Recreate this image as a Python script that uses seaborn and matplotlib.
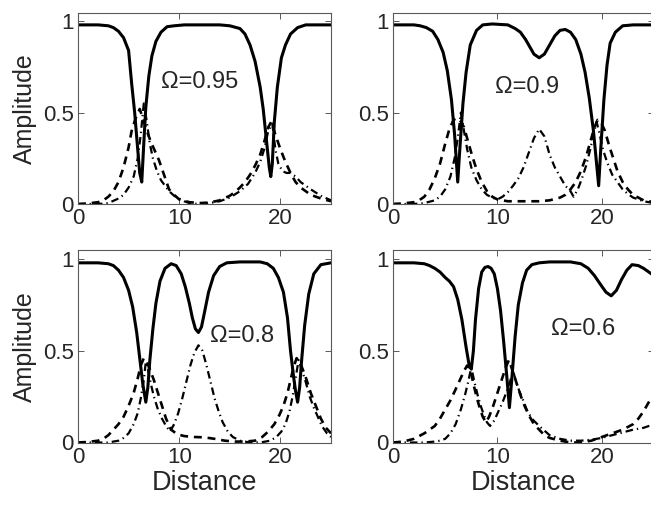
import numpy as np
import pandas as pd
import seaborn as sns
import matplotlib.pyplot as plt

# ---- values ----
omegas = ['0.95', '0.9', '0.8', '0.6']

# panel 1, Omega = 0.95
solid1_x = [0, 2, 3, 3.5, 4, 4.5, 5, 5.3, 5.6, 5.9, 6.1, 6.3, 6.5, 6.7, 7.0, 7.3, 7.7, 8.2, 8.8, 9.5,
            10.5, 14, 15, 16, 16.5, 17, 17.5, 18, 18.3, 18.6, 18.9, 19.05, 19.2, 19.4, 19.7, 20.1, 20.5, 21, 21.7, 22.5, 25]
solid1_y = [0.98, 0.98, 0.975, 0.965, 0.945, 0.91, 0.84, 0.66, 0.5, 0.3, 0.17, 0.12, 0.33, 0.53, 0.7, 0.81, 0.89, 0.94, 0.97, 0.975,
            0.98, 0.98, 0.975, 0.96, 0.93, 0.87, 0.78, 0.64, 0.52, 0.36, 0.2, 0.15, 0.22, 0.45, 0.64, 0.8, 0.87, 0.93, 0.965, 0.98, 0.98]
dash1_x = [0, 1, 2, 2.5, 3, 3.5, 4, 4.5, 5, 5.3, 5.7, 6.1, 6.4, 6.8, 7.2, 7.6, 8, 8.5, 9, 9.5,
           10, 11, 12, 13, 14, 15, 15.5, 16, 16.5, 17, 17.5, 18, 18.4, 18.8, 19.1, 19.5, 20, 20.5, 21, 21.5,
           22, 23, 24, 25]
dash1_y = [0.0, 0.003, 0.01, 0.02, 0.04, 0.07, 0.12, 0.2, 0.31, 0.4, 0.47, 0.52, 0.47, 0.4, 0.34, 0.29, 0.24, 0.16, 0.08, 0.05,
           0.025, 0.01, 0.005, 0.008, 0.02, 0.045, 0.065, 0.09, 0.12, 0.16, 0.21, 0.27, 0.34, 0.42, 0.45, 0.38, 0.3, 0.23, 0.17, 0.12,
           0.09, 0.05, 0.03, 0.015]
dot1_x = [0, 2, 3, 4, 4.5, 5, 5.5, 5.9, 6.2, 6.5, 6.8, 7.1, 7.4, 7.8, 8.2, 8.6, 9, 9.5, 10, 10.5,
          11, 11.5, 12, 13, 14, 15, 16, 16.8, 17.5, 18, 18.4, 18.8, 19.2, 19.5, 19.8, 20.2, 20.6, 21, 21.5, 22,
          22.5, 23, 24, 25]
dot1_y = [0.0, 0.0, 0.005, 0.03, 0.05, 0.09, 0.15, 0.25, 0.38, 0.55, 0.45, 0.33, 0.25, 0.18, 0.13, 0.1, 0.07, 0.045, 0.03, 0.015,
          0.005, 0.002, 0.0, 0.005, 0.015, 0.035, 0.07, 0.11, 0.17, 0.23, 0.3, 0.4, 0.44, 0.3, 0.22, 0.18, 0.17, 0.17, 0.15, 0.12,
          0.1, 0.08, 0.045, 0.02]

# panel 2, Omega = 0.9
solid2_x = [0, 2, 2.6, 3.2, 3.8, 4.3, 4.8, 5.2, 5.6, 5.9, 6.2, 6.4, 6.7, 7.0, 7.4, 8, 8.6, 9.5, 11, 11.7,
            12.2, 12.7, 13.1, 13.5, 14, 14.5, 15, 15.5, 16, 16.5, 17, 17.5, 18, 18.4, 18.8, 19.2, 19.5, 19.7, 19.9, 20.2,
            20.5, 20.8, 21.3, 22, 23, 25]
solid2_y = [0.98, 0.98, 0.975, 0.965, 0.945, 0.9, 0.83, 0.73, 0.57, 0.38, 0.12, 0.3, 0.55, 0.72, 0.87, 0.95, 0.98, 0.985, 0.98, 0.96,
            0.94, 0.9, 0.86, 0.82, 0.8, 0.82, 0.87, 0.92, 0.95, 0.955, 0.94, 0.9, 0.82, 0.72, 0.58, 0.4, 0.22, 0.1, 0.3, 0.57,
            0.76, 0.88, 0.94, 0.975, 0.98, 0.98]
dash2_x = [0, 1, 2, 2.5, 3, 3.5, 4, 4.5, 5, 5.4, 5.8, 6.1, 6.4, 6.8, 7.2, 7.6, 8, 8.5, 9, 9.5,
           10, 11, 12, 13, 14, 15, 16, 16.5, 17, 17.5, 18, 18.5, 18.9, 19.3, 19.6, 19.9, 20.3, 20.7, 21.1, 21.5,
           22, 22.5, 23, 24, 25]
dash2_y = [0.0, 0.003, 0.01, 0.02, 0.04, 0.08, 0.14, 0.22, 0.33, 0.41, 0.46, 0.47, 0.46, 0.42, 0.34, 0.26, 0.19, 0.12, 0.07, 0.04,
           0.025, 0.015, 0.015, 0.015, 0.015, 0.02, 0.035, 0.05, 0.08, 0.12, 0.18, 0.26, 0.34, 0.42, 0.46, 0.45, 0.4, 0.32, 0.25, 0.18,
           0.12, 0.08, 0.05, 0.02, 0.01]
dot2_x = [0, 2, 3, 4, 4.5, 5, 5.5, 5.9, 6.2, 6.5, 6.8, 7.1, 7.5, 8, 8.5, 9, 9.5, 10, 10.5, 11,
          11.5, 12, 12.5, 13, 13.5, 14, 14.5, 15, 15.5, 16, 16.5, 17, 17.3, 17.7, 18.1, 18.5, 18.9, 19.2, 19.5, 19.8,
          20.1, 20.5, 21, 21.5, 22, 22.5, 23, 24, 25]
dot2_y = [0.0, 0.0, 0.005, 0.02, 0.04, 0.08, 0.15, 0.25, 0.36, 0.5, 0.4, 0.3, 0.2, 0.13, 0.08, 0.05, 0.035, 0.025, 0.04, 0.065,
          0.1, 0.14, 0.2, 0.28, 0.36, 0.41, 0.37, 0.27, 0.2, 0.15, 0.1, 0.07, 0.04, 0.08, 0.14, 0.21, 0.3, 0.38, 0.45, 0.38,
          0.3, 0.23, 0.16, 0.12, 0.08, 0.055, 0.035, 0.015, 0.005]

# panel 3, Omega = 0.8
solid3_x = [0, 2, 3, 3.5, 4, 4.5, 5, 5.4, 5.8, 6.1, 6.4, 6.7, 6.9, 7.1, 7.4, 7.7, 8.1, 8.6, 9.2, 9.7,
            10.2, 10.6, 11, 11.3, 11.6, 11.9, 12.2, 12.5, 12.9, 13.4, 14, 14.7, 16, 18, 18.7, 19.3, 19.8, 20.3, 20.7, 21,
            21.3, 21.5, 21.7, 21.9, 22.1, 22.4, 22.8, 23.3, 24, 25]
solid3_y = [0.98, 0.98, 0.975, 0.965, 0.94, 0.9, 0.83, 0.74, 0.6, 0.46, 0.32, 0.22, 0.3, 0.45, 0.62, 0.76, 0.88, 0.95, 0.975, 0.965,
            0.92, 0.85, 0.76, 0.68, 0.62, 0.6, 0.63, 0.71, 0.82, 0.91, 0.96, 0.98, 0.985, 0.985, 0.975, 0.95, 0.9, 0.82, 0.68, 0.5,
            0.36, 0.28, 0.22, 0.3, 0.45, 0.64, 0.81, 0.92, 0.97, 0.98]
dash3_x = [0, 1, 2, 2.5, 3, 3.5, 4, 4.5, 5, 5.5, 5.9, 6.2, 6.5, 6.8, 7.1, 7.5, 7.9, 8.3, 8.7, 9.2,
           9.8, 10.5, 11.5, 12.5, 13.5, 14.5, 15.5, 16.5, 17.5, 18.2, 18.8, 19.4, 19.9, 20.3, 20.7, 21, 21.3, 21.6, 21.9, 22.2,
           22.6, 23, 23.5, 24, 24.5, 25]
dash3_y = [0.0, 0.003, 0.01, 0.02, 0.04, 0.07, 0.1, 0.14, 0.2, 0.27, 0.35, 0.42, 0.46, 0.44, 0.4, 0.34, 0.27, 0.2, 0.13, 0.07,
           0.045, 0.035, 0.03, 0.028, 0.02, 0.01, 0.005, 0.005, 0.01, 0.03, 0.06, 0.1, 0.15, 0.2, 0.27, 0.34, 0.41, 0.46, 0.44, 0.4,
           0.34, 0.27, 0.2, 0.13, 0.08, 0.05]
dot3_x = [0, 3, 4, 4.5, 5, 5.5, 5.9, 6.2, 6.5, 6.7, 6.9, 7.2, 7.5, 7.9, 8.3, 8.7, 9.1, 9.5, 9.9, 10.3,
          10.7, 11.1, 11.5, 11.9, 12.3, 12.7, 13.1, 13.5, 13.9, 14.3, 14.8, 15.3, 16, 17, 18, 19, 19.6, 20.1, 20.5, 20.9,
          21.2, 21.5, 21.8, 22.1, 22.5, 22.9, 23.3, 23.7, 24.1, 24.6, 25]
dot3_y = [0.0, 0.0, 0.01, 0.025, 0.05, 0.1, 0.16, 0.24, 0.34, 0.44, 0.4, 0.32, 0.25, 0.18, 0.13, 0.09, 0.06, 0.1, 0.16, 0.24,
          0.33, 0.42, 0.49, 0.53, 0.5, 0.42, 0.33, 0.24, 0.17, 0.11, 0.06, 0.03, 0.01, 0.0, 0.0, 0.01, 0.03, 0.06, 0.1, 0.17,
          0.25, 0.35, 0.45, 0.4, 0.33, 0.25, 0.19, 0.14, 0.09, 0.05, 0.03]

# panel 4, Omega = 0.6
solid4_x = [0, 2, 3, 3.5, 4, 4.5, 5, 5.4, 5.8, 6.2, 6.6, 7.0, 7.3, 7.5, 7.7, 7.9, 8.2, 8.5, 8.8, 9.1,
            9.4, 9.7, 10.0, 10.3, 10.6, 10.9, 11.15, 11.4, 11.7, 12.0, 12.4, 12.8, 13.3, 14, 15, 17, 18, 18.7, 19.3, 19.9,
            20.4, 20.9, 21.4, 21.9, 22.4, 22.9, 23.5, 24, 24.5, 25]
solid4_y = [0.98, 0.98, 0.975, 0.965, 0.95, 0.93, 0.9, 0.88, 0.85, 0.78, 0.67, 0.52, 0.42, 0.4, 0.5, 0.67, 0.84, 0.93, 0.955, 0.96,
            0.95, 0.92, 0.84, 0.72, 0.55, 0.36, 0.19, 0.36, 0.58, 0.75, 0.87, 0.94, 0.97, 0.98, 0.985, 0.985, 0.975, 0.95, 0.91, 0.86,
            0.82, 0.8, 0.83, 0.89, 0.94, 0.97, 0.965, 0.95, 0.93, 0.91]
dash4_x = [0, 1, 2, 2.5, 3, 3.5, 4, 4.5, 5, 5.5, 6, 6.4, 6.8, 7.1, 7.4, 7.7, 8, 8.3, 8.6, 8.9,
           9.2, 9.6, 10, 10.4, 10.8, 11.1, 11.4, 11.8, 12.2, 12.6, 13, 13.5, 14, 14.5, 15, 16, 17, 18, 19, 20,
           21, 22, 23, 23.5, 24, 24.5, 25]
dash4_y = [0.0, 0.005, 0.02, 0.035, 0.05, 0.07, 0.09, 0.13, 0.18, 0.23, 0.29, 0.34, 0.39, 0.42, 0.4, 0.32, 0.25, 0.19, 0.14, 0.11,
           0.14, 0.2, 0.27, 0.34, 0.41, 0.45, 0.4, 0.33, 0.26, 0.2, 0.15, 0.1, 0.07, 0.04, 0.025, 0.01, 0.0, 0.0, 0.01, 0.03,
           0.05, 0.07, 0.1, 0.13, 0.17, 0.22, 0.27]
dot4_x = [0, 3, 4, 4.5, 5, 5.5, 6, 6.5, 6.9, 7.2, 7.5, 7.8, 8.1, 8.4, 8.7, 9.0, 9.3, 9.7, 10.1, 10.5,
          10.9, 11.2, 11.5, 11.8, 12.1, 12.4, 12.8, 13.3, 14, 15, 16, 17, 18, 19, 20, 21, 22, 23, 24, 25]
dot4_y = [0.0, 0.0, 0.005, 0.01, 0.02, 0.05, 0.1, 0.18, 0.26, 0.33, 0.41, 0.33, 0.26, 0.2, 0.15, 0.11, 0.09, 0.12, 0.17, 0.22,
          0.28, 0.33, 0.39, 0.33, 0.28, 0.24, 0.18, 0.13, 0.09, 0.04, 0.02, 0.01, 0.01, 0.015, 0.025, 0.04, 0.055, 0.07, 0.08, 0.1]

# where the Omega labels sit (data coords)
label_x = [8.2, 9.8, 13.0, 15.1]
label_y = [0.67, 0.64, 0.58, 0.62]

panels = [
    (solid1_x, solid1_y, dash1_x, dash1_y, dot1_x, dot1_y),
    (solid2_x, solid2_y, dash2_x, dash2_y, dot2_x, dot2_y),
    (solid3_x, solid3_y, dash3_x, dash3_y, dot3_x, dot3_y),
    (solid4_x, solid4_y, dash4_x, dash4_y, dot4_x, dot4_y),
]

sns.set_style("ticks")
plt.rcParams['font.family'] = ['Liberation Sans', 'DejaVu Sans']

fig = plt.figure(figsize=(6.51, 5.08), dpi=100)

# axes boxes in figure fractions [left, bottom, width, height]
boxes = [
    [78 / 651, 1 - 204 / 508, 253 / 651, 191 / 508],
    [393 / 651, 1 - 204 / 508, 261 / 651, 191 / 508],
    [78 / 651, 1 - 442.5 / 508, 253 / 651, 192.5 / 508],
    [393 / 651, 1 - 442.5 / 508, 261 / 651, 192.5 / 508],
]

for i, (sx, sy, dx, dy, ox, oy) in enumerate(panels):
    ax = fig.add_axes(boxes[i])

    # dash-dot component
    sns.lineplot(x=ox, y=oy, ax=ax, color='k', lw=1.6, estimator=None)
    ax.lines[-1].set_dashes((3.4, 1.8, 0.6, 1.8))
    # dashed component
    sns.lineplot(x=dx, y=dy, ax=ax, color='k', lw=1.9, estimator=None)
    ax.lines[-1].set_dashes((3.0, 2.2))
    # solid component
    sns.lineplot(x=sx, y=sy, ax=ax, color='k', lw=2.2, estimator=None)

    ax.set_xlim(0, 25)
    ax.set_ylim(0, 1.05 if i >= 2 else 1.045)
    ax.set_xticks([0, 10, 20])
    ax.set_yticks([0, 0.5, 1])
    ax.set_yticklabels(['0', '0.5', '1'])
    ax.tick_params(direction='in', top=True, right=True, length=4,
                   width=0.7, color='0.35', labelsize=16, pad=3)
    for sp in ax.spines.values():
        sp.set_color('0.35')
        sp.set_linewidth(0.8)

    ax.text(label_x[i], label_y[i], '\u03a9=' + omegas[i], fontsize=17,
            va='center', ha='left')

    ax.set_xlabel('Distance' if i >= 2 else '', fontsize=19.5, labelpad=2)
    ax.set_ylabel('Amplitude' if i % 2 == 0 else '', fontsize=18, labelpad=4)

fig.savefig('out.png', dpi=100)
